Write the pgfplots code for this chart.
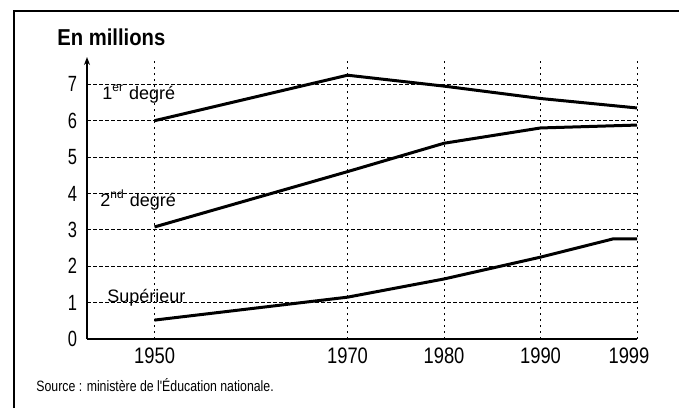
\documentclass[border=0pt]{standalone}
\usepackage{fontspec}
\setmainfont{Liberation Sans}
\newfontfamily\cond[FakeStretch=0.82]{Liberation Sans}
\newfontfamily\condy[FakeStretch=0.75]{Liberation Sans}
\newfontfamily\condt[FakeStretch=0.88]{Liberation Sans}
\usepackage{pgfplots}
\pgfplotsset{compat=1.18}
\usetikzlibrary{arrows.meta}
\begin{document}
\begin{tikzpicture}[x=0.5pt,y=-0.5pt]
\useasboundingbox (0,0) rectangle (679,408);
\draw[line width=0.9pt] (14,408) -- (14,11) -- (679,11);
\coordinate (O) at (87,339);
\begin{axis}[
  at={(O)}, anchor=south west,
  scale only axis, width=275pt, height=141pt,
  xmin=1943, xmax=2000, ymin=0, ymax=7.75,
  axis x line*=bottom, axis y line*=left,
  x axis line style={-, line width=0.8pt},
  y axis line style={-{Stealth[length=4pt,width=3pt]}, line width=0.8pt},
  xtick={1950,1970,1980,1990,2000},
  xticklabels={1950,1970,1980,1990,{\hspace*{-8pt}1999}},
  ytick={0,1,2,3,4,5,6,7},
  major tick length=0pt,
  xmajorgrids, ymajorgrids,
  x grid style={black, line width=0.45pt, dash pattern=on 0.8pt off 2.2pt},
  y grid style={black, line width=0.45pt, dash pattern=on 2pt off 1pt},
  /pgf/number format/assume math mode=true,
  xticklabel style={font=\cond\fontsize{11.2}{11.2}\selectfont, yshift=-1pt},
  yticklabel style={font=\condy\fontsize{11}{11}\selectfont, xshift=-1.5pt},
  clip=false,
]
\addplot[black, line width=1.5pt] coordinates {(1950,6.0) (1970,7.25) (1980,6.95) (1990,6.61) (2000,6.35)};
\addplot[black, line width=1.5pt] coordinates {(1950,3.08) (1970,4.6) (1980,5.38) (1990,5.8) (2000,5.88)};
\addplot[black, line width=1.5pt] coordinates {(1950,0.52) (1970,1.15) (1980,1.65) (1990,2.25) (1997.5,2.75) (2000,2.75)};
\end{axis}
\node[anchor=base west, inner sep=0pt, font=\condt\bfseries\fontsize{11.5}{11.5}\selectfont] at (57,45) {En millions};
\node[anchor=base west, inner sep=0pt, font=\fontsize{9}{9}\selectfont] at (102,99) {1\textsuperscript{er} degré};
\node[anchor=base west, inner sep=0pt, font=\fontsize{9}{9}\selectfont] at (100,206) {2\textsuperscript{nd} degré};
\node[anchor=base west, inner sep=0pt, font=\fontsize{9}{9}\selectfont] at (107,302) {Supérieur};
\node[anchor=base west, inner sep=0pt, font=\cond\fontsize{7.5}{7.5}\selectfont] at (36,391) {Source : ministère de l'Éducation nationale.};
\end{tikzpicture}
\end{document}
